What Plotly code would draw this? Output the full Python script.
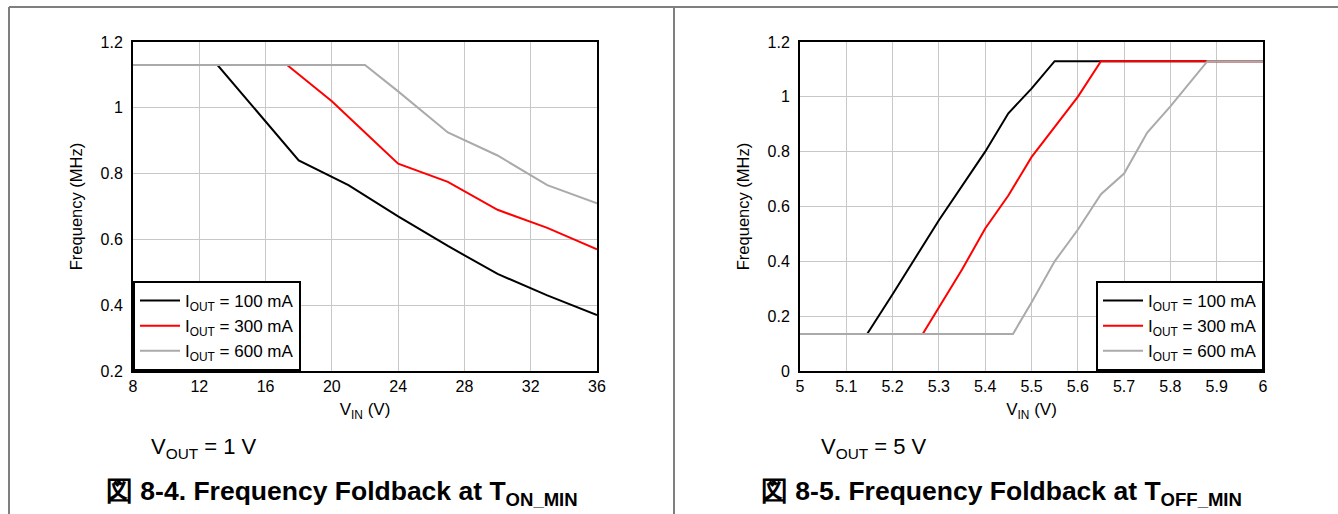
import plotly.graph_objects as go

# ---- Data: Figure 8-4 (VOUT = 1 V), frequency foldback at TON_MIN ----
vin_100_l = [8, 13.1, 18, 20, 21, 24, 27, 30, 33, 36]
f_100_l = [1.13, 1.13, 0.84, 0.79, 0.765, 0.67, 0.58, 0.495, 0.43, 0.37]
vin_300_l = [17.3, 20, 22, 24, 27, 30, 33, 36]
f_300_l = [1.13, 1.02, 0.925, 0.83, 0.775, 0.69, 0.635, 0.57]
vin_600_l = [8, 22, 24, 27, 30, 33, 36]
f_600_l = [1.13, 1.13, 1.05, 0.925, 0.855, 0.765, 0.71]

# ---- Data: Figure 8-5 (VOUT = 5 V), frequency foldback at TOFF_MIN ----
vin_100_r = [5.145, 5.2, 5.3, 5.4, 5.45, 5.5, 5.55, 6.0]
f_100_r = [0.135, 0.28, 0.55, 0.80, 0.94, 1.03, 1.13, 1.13]
vin_300_r = [5.265, 5.3, 5.35, 5.4, 5.45, 5.5, 5.55, 5.6, 5.65, 6.0]
f_300_r = [0.135, 0.23, 0.37, 0.52, 0.64, 0.78, 0.89, 1.0, 1.13, 1.13]
vin_600_r = [5.0, 5.46, 5.5, 5.55, 5.6, 5.65, 5.7, 5.75, 5.8, 5.88, 6.0]
f_600_r = [0.135, 0.135, 0.25, 0.40, 0.515, 0.645, 0.72, 0.87, 0.965, 1.13, 1.13]

series_names = ["I<sub>OUT</sub> = 100 mA", "I<sub>OUT</sub> = 300 mA", "I<sub>OUT</sub> = 600 mA"]
colors = ["#000000", "#ff0000", "#aaaaaa"]

x_ticks_l = [8, 12, 16, 20, 24, 28, 32, 36]
y_ticks_l = [0.2, 0.4, 0.6, 0.8, 1.0, 1.2]
y_tick_text_l = ["0.2", "0.4", "0.6", "0.8", "1", "1.2"]
x_ticks_r = [5, 5.1, 5.2, 5.3, 5.4, 5.5, 5.6, 5.7, 5.8, 5.9, 6]
x_tick_text_r = ["5", "5.1", "5.2", "5.3", "5.4", "5.5", "5.6", "5.7", "5.8", "5.9", "6"]
y_ticks_r = [0, 0.2, 0.4, 0.6, 0.8, 1.0, 1.2]
y_tick_text_r = ["0", "0.2", "0.4", "0.6", "0.8", "1", "1.2"]

FONT = "Liberation Sans, Arial, sans-serif"

# Figure fills the whole window; body margin is removed by the post script.
W, H = 1338, 514


def fx(px):
    return px / W


def fy(py):
    return 1 - py / H


fig = go.Figure()

left_sets = [(vin_100_l, f_100_l), (vin_300_l, f_300_l), (vin_600_l, f_600_l)]
right_sets = [(vin_100_r, f_100_r), (vin_300_r, f_300_r), (vin_600_r, f_600_r)]

for i, (xs, ys) in enumerate(left_sets):
    fig.add_trace(go.Scatter(x=xs, y=ys, mode="lines", name=series_names[i],
                             line=dict(color=colors[i], width=2),
                             xaxis="x", yaxis="y", legend="legend"))
for i, (xs, ys) in enumerate(right_sets):
    fig.add_trace(go.Scatter(x=xs, y=ys, mode="lines", name=series_names[i],
                             line=dict(color=colors[i], width=2),
                             xaxis="x2", yaxis="y2", legend="legend2"))

axis_common = dict(showgrid=True, gridcolor="#c8c8c8", gridwidth=1,
                   showline=True, linecolor="#000000", linewidth=2, mirror=True,
                   ticks="", zeroline=False, automargin=False,
                   tickfont=dict(family=FONT, size=16, color="#000000"))

y_dom = [fy(371), fy(42)]
xt_font = dict(family=FONT, size=17, color="#000000")
yt_font = dict(family=FONT, size=16.5, color="#000000")
leg_font = dict(family=FONT, size=17, color="#000000")

fig.update_layout(
    width=W, height=H, autosize=False,
    margin=dict(l=0, r=0, t=0, b=0, pad=0, autoexpand=False),
    paper_bgcolor="white", plot_bgcolor="white",
    font=dict(family=FONT, color="#000000"),
    xaxis=dict(domain=[fx(133), fx(597)], range=[8, 36], tickvals=x_ticks_l,
               title=dict(text="V<sub>IN</sub> (V)", font=xt_font, standoff=9),
               anchor="y", **axis_common),
    yaxis=dict(domain=y_dom, range=[0.2, 1.2], tickvals=y_ticks_l, ticktext=y_tick_text_l,
               ticklabelstandoff=5,
               title=dict(text="Frequency (MHz)", font=yt_font, standoff=14),
               anchor="x", **axis_common),
    xaxis2=dict(domain=[fx(800), fx(1263)], range=[5, 6], tickvals=x_ticks_r,
                ticktext=x_tick_text_r,
                title=dict(text="V<sub>IN</sub> (V)", font=xt_font, standoff=9),
                anchor="y2", **axis_common),
    yaxis2=dict(domain=y_dom, range=[0, 1.2], tickvals=y_ticks_r, ticktext=y_tick_text_r,
                ticklabelstandoff=5,
                title=dict(text="Frequency (MHz)", font=yt_font, standoff=14),
                anchor="x2", **axis_common),
    legend=dict(x=fx(133), y=y_dom[0], xanchor="left", yanchor="bottom",
                bgcolor="white", bordercolor="#000000", borderwidth=2,
                font=leg_font, tracegroupgap=0, itemwidth=40),
    legend2=dict(x=fx(1264), y=y_dom[0], xanchor="right", yanchor="bottom",
                 bgcolor="white", bordercolor="#000000", borderwidth=2,
                 font=leg_font, tracegroupgap=0, itemwidth=40),
)

# page frame lines
frame = dict(type="line", xref="paper", yref="paper", line=dict(color="#7f7f7f", width=2))
fig.add_shape(x0=fx(9), x1=1, y0=fy(7), y1=fy(7), **frame)
fig.add_shape(x0=fx(9), x1=fx(9), y0=0, y1=fy(7), **frame)
fig.add_shape(x0=fx(674), x1=fx(674), y0=0, y1=fy(7), **frame)

# conditions
fig.add_annotation(text="V<sub>OUT</sub> = 1 V", x=fx(149), y=fy(448),
                   xref="paper", yref="paper", xanchor="left", yanchor="middle",
                   showarrow=False, font=dict(family=FONT, size=22))
fig.add_annotation(text="V<sub>OUT</sub> = 5 V", x=fx(819), y=fy(448),
                   xref="paper", yref="paper", xanchor="left", yanchor="middle",
                   showarrow=False, font=dict(family=FONT, size=22))

# captions
fig.add_annotation(text="<b>図 8-4. Frequency Foldback at T<sub>ON_MIN</sub></b>",
                   x=fx(342), y=fy(493), xref="paper", yref="paper",
                   xanchor="center", yanchor="middle", showarrow=False,
                   font=dict(family=FONT, size=26.5))
fig.add_annotation(text="<b>図 8-5. Frequency Foldback at T<sub>OFF_MIN</sub></b>",
                   x=fx(1001), y=fy(493), xref="paper", yref="paper",
                   xanchor="center", yanchor="middle", showarrow=False,
                   font=dict(family=FONT, size=26.5))

fig.write_html(
    "out.html",
    config={"displayModeBar": False},
    post_script="document.body.style.margin='0';document.documentElement.style.overflow='hidden';",
)
